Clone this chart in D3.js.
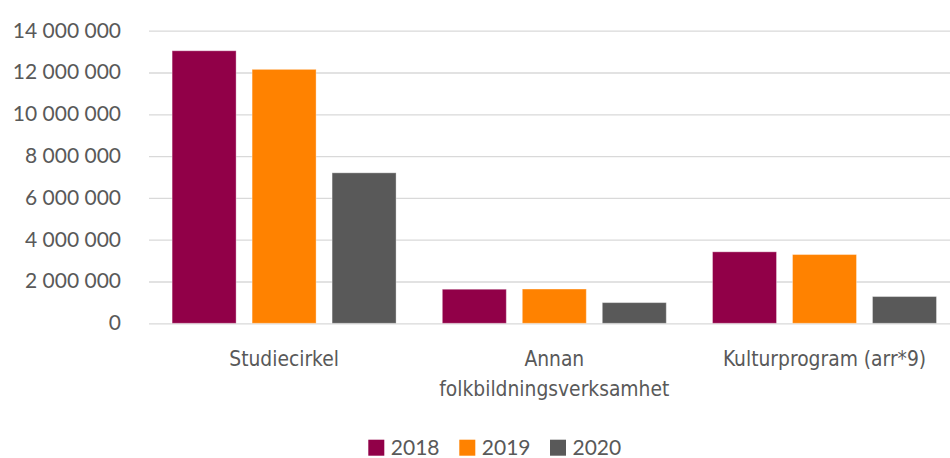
<!DOCTYPE html>
<html>
<head>
<meta charset="utf-8">
<script src="https://cdn.jsdelivr.net/npm/d3@7"></script>
<style>
  html, body { margin: 0; padding: 0; background: #fff; }
  svg { display: block; }
</style>
</head>
<body>
<svg id="chart" width="950" height="458"></svg>
<script>
const categories = ["Studiecirkel", "Annan folkbildningsverksamhet", "Kulturprogram (arr*9)"];
const categoryLines = [["Studiecirkel"], ["Annan", "folkbildningsverksamhet"], ["Kulturprogram (arr*9)"]];
const seriesNames = ["2018", "2019", "2020"];
const values2018 = [13040000, 1630000, 3420000];
const values2019 = [12150000, 1640000, 3290000];
const values2020 = [7200000, 990000, 1280000];
const yTicks = [0, 2000000, 4000000, 6000000, 8000000, 10000000, 12000000, 14000000];
const colors = ["#910048", "#FF8200", "#595959"];

const seriesValues = [values2018, values2019, values2020];
const data = categories.map((c, i) => ({
  category: c,
  lines: categoryLines[i],
  values: seriesNames.map((s, j) => ({ series: s, value: seriesValues[j][i] }))
}));

const svg = d3.select("#chart");
const plotLeft = 149, plotRight = 959.6, plotTop = 30.7, plotBottom = 323.3;

const x0 = d3.scaleBand().domain(categories).range([plotLeft, plotRight]).padding(0);
const x1 = d3.scaleBand().domain(seriesNames).range([0, x0.bandwidth()])
  .paddingInner(0.2).paddingOuter(0.289);
const y = d3.scaleLinear().domain([0, 14000000]).range([plotBottom, plotTop]);
const color = d3.scaleOrdinal().domain(seriesNames).range(colors);

const fmt = v => d3.format(",")(v).replace(/,/g, " ");

// Y axis with gridlines
const yAxis = svg.append("g")
  .attr("transform", `translate(${plotLeft},0)`)
  .call(d3.axisLeft(y).tickValues(yTicks).tickFormat(fmt)
    .tickSize(-(950 - plotLeft)).tickPadding(28));
yAxis.select(".domain").remove();
yAxis.selectAll(".tick line").attr("stroke", "#d9d9d9").attr("stroke-width", 1.3);
yAxis.selectAll(".tick text")
  .attr("fill", "#595959")
  .style("font-family", "Lato, 'Open Sans', sans-serif")
  .style("font-size", "21px")
  .attr("dy", "0.3em");

// Bars
const groups = svg.append("g").selectAll("g")
  .data(data).join("g")
  .attr("transform", d => `translate(${x0(d.category)},0)`);
groups.selectAll("rect")
  .data(d => d.values).join("rect")
  .attr("x", d => x1(d.series))
  .attr("width", x1.bandwidth())
  .attr("y", d => y(d.value))
  .attr("height", d => y(0) - y(d.value))
  .attr("fill", d => color(d.series))
  .attr("stroke", "rgba(255,255,255,0.35)")
  .attr("stroke-width", 1);

// Category axis
const xAxis = svg.append("g")
  .attr("transform", `translate(0,${plotBottom})`)
  .call(d3.axisBottom(x0).tickSize(0).tickFormat(""));
xAxis.select(".domain").remove();
xAxis.selectAll(".tick").each(function(d, i) {
  const t = d3.select(this).append("text")
    .attr("fill", "#595959")
    .attr("text-anchor", "middle")
    .style("font-family", "'DejaVu Sans Condensed', 'DejaVu Sans', sans-serif")
    .style("font-stretch", "condensed")
    .style("font-size", "20.8px");
  categoryLines[i].forEach((line, k) => {
    t.append("tspan").attr("x", 0).attr("y", 43 + k * 30).text(line);
  });
});

// Legend
const legendX = [368.3, 459.3, 550];
const legend = svg.append("g").selectAll("g")
  .data(seriesNames).join("g")
  .attr("transform", (d, i) => `translate(${legendX[i]},439.7)`);
legend.append("rect")
  .attr("width", 16).attr("height", 16)
  .attr("fill", d => color(d));
legend.append("text")
  .attr("x", 22.5).attr("y", 15.5)
  .attr("fill", "#595959")
  .style("font-family", "Lato, 'Open Sans', sans-serif")
  .style("font-size", "21px")
  .text(d => d);
</script>
</body>
</html>
